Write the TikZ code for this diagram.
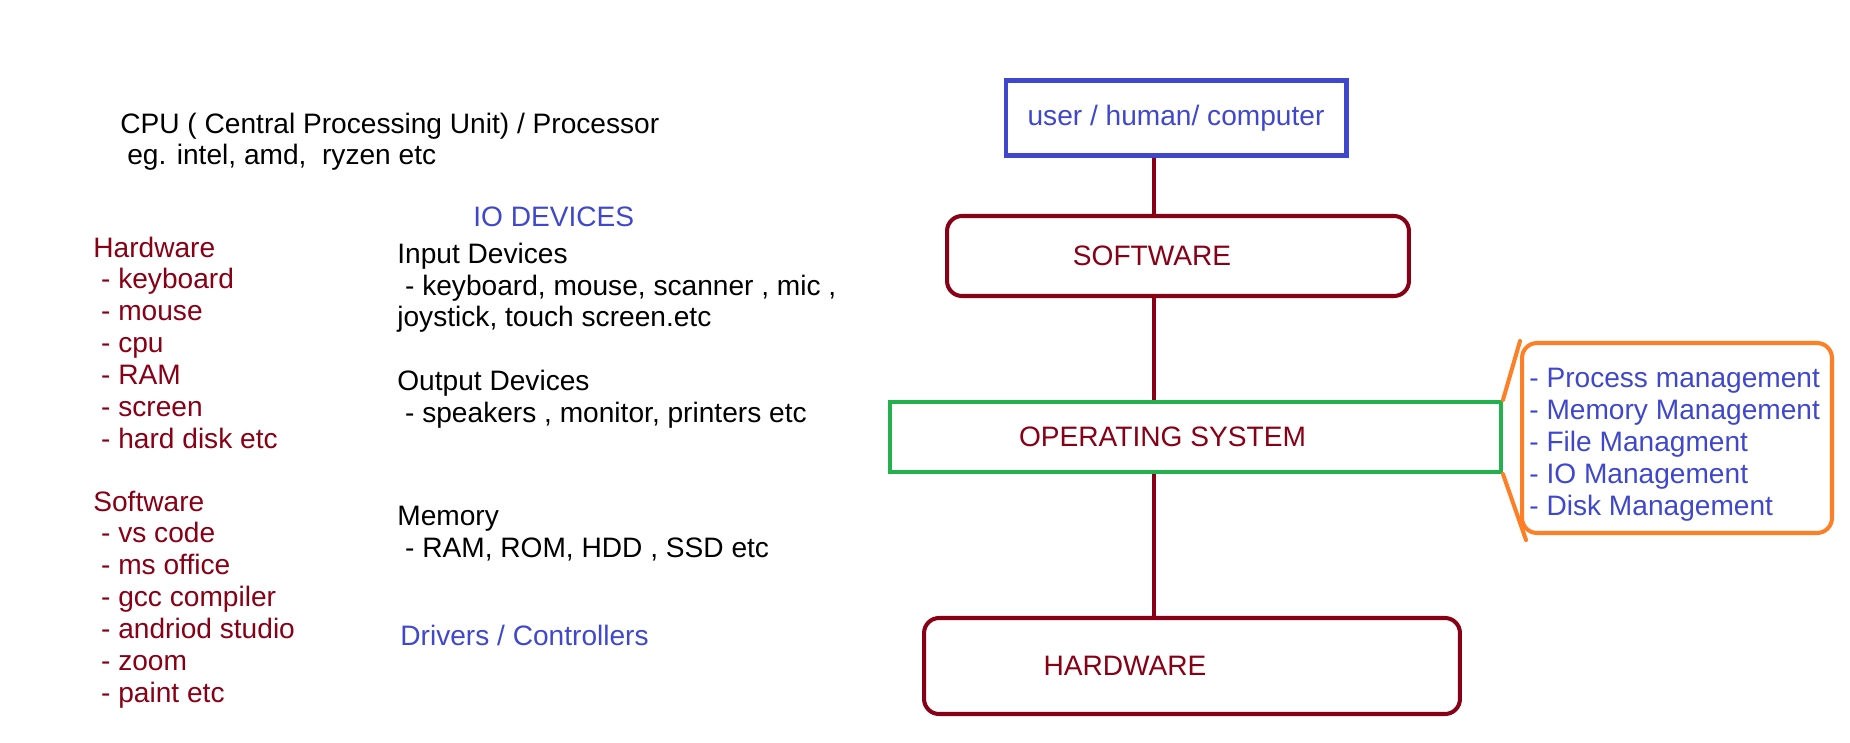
\documentclass[tikz,border=0pt]{standalone}
\usepackage{fontspec}
\setmainfont{Liberation Sans}
\definecolor{darkred}{RGB}{136,0,21}
\definecolor{textblue}{RGB}{63,72,204}
\definecolor{boxgreen}{RGB}{34,177,76}
\definecolor{boxorange}{RGB}{255,127,39}
\tikzset{
  txt/.style={anchor=base west, align=left, inner sep=0pt},
  layer/.style={draw=darkred, line width=2.3pt, rounded corners=0.3cm},
  link/.style={draw=darkred, line width=2.3pt},
}
\begin{document}
\begin{tikzpicture}[x=0.02cm, y=-0.02cm, font=\fontsize{16}{18.1}\selectfont]
\useasboundingbox (0,0) rectangle (1850,743);
% left column (base = last line)
\node[txt] (cpu) at (120,165) {CPU ( Central Processing Unit) / Processor\\\hspace{0.14cm}eg. intel, amd,\ \ ryzen etc};
\node[txt, text=darkred] (hw) at (93,448) {Hardware\\\ - keyboard\\\ - mouse\\\ - cpu\\\ - RAM\\\ - screen\\\ - hard disk etc};
\node[txt, text=darkred] (sw) at (93,702) {Software\\\ - vs code\\\ - ms office\\\ - gcc compiler\\\ - andriod studio\\\ - zoom\\\ - paint etc};
% middle column
\node[txt, text=textblue] (io) at (473,227) {IO DEVICES};
\node[txt] (in) at (397,327) {Input Devices\\\ - keyboard, mouse, scanner , mic ,\\joystick, touch screen.etc};
\node[txt] (out) at (397,422) {Output Devices\\\ - speakers , monitor, printers etc};
\node[txt] (mem) at (397,557) {Memory\\\ - RAM, ROM, HDD , SSD etc};
\node[txt, text=textblue] (drv) at (400,645) {Drivers / Controllers};
% layers
\coordinate (axis) at (1154,0);
\node[draw=textblue, line width=2.3pt, minimum width=6.82cm, minimum height=1.5cm, text=textblue] (user) at (1176,118) {user / human/ computer};
\node[layer, minimum width=9.24cm, minimum height=1.6cm, label={[text=darkred, xshift=-0.52cm]center:SOFTWARE}] (soft) at (1178,256) {};
\node[draw=boxgreen, line width=2.3pt, minimum width=12.22cm, minimum height=1.4cm, label={[text=darkred, xshift=-0.66cm]center:OPERATING SYSTEM}] (os) at (1195.5,437) {};
\node[layer, minimum width=10.72cm, minimum height=1.92cm, label={[text=darkred, xshift=-1.34cm]center:HARDWARE}] (hard) at (1192,666) {};
\draw[link] (user.south -| axis) -- (soft.north -| axis);
\draw[link] (soft.south -| axis) -- (os.north -| axis);
\draw[link] (os.south -| axis) -- (hard.north -| axis);
% callout
\node[draw=boxorange, line width=2.3pt, rounded corners=0.3cm, minimum width=6.2cm, minimum height=3.8cm] (mgmt) at (1677,438) {};
\node[txt, text=textblue] (tasks) at (1529,515) {- Process management\\- Memory Management\\- File Managment\\- IO Management\\- Disk Management};
\draw[draw=boxorange, line width=2.3pt, line cap=round] (os.north east) -- (mgmt.north west);
\draw[draw=boxorange, line width=2.3pt, line cap=round] (os.south east) -- ([shift={(0.12cm,-0.1cm)}]mgmt.south west);
\end{tikzpicture}
\end{document}
